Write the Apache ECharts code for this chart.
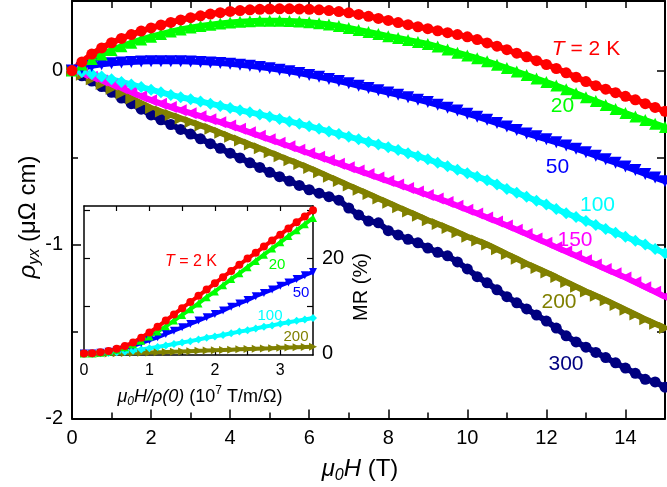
<!DOCTYPE html>
<html>
<head>
<meta charset="utf-8">
<script src="https://cdn.jsdelivr.net/npm/echarts@6/dist/echarts.min.js"></script>
<style>html,body{margin:0;padding:0;background:#fff}#c{width:667px;height:487px}</style>
</head>
<body>
<div id="c"></div>
<script>
// ---------- main panel data: Hall resistivity rho_yx (µΩ cm) vs µ0H (T) ----------
const fieldT = [0,0.25,0.5,0.75,1,1.25,1.5,1.75,2,2.25,2.5,2.75,3,3.25,3.5,3.75,4,4.25,4.5,4.75,5,5.25,5.5,5.75,6,6.25,6.5,6.75,7,7.25,7.5,7.75,8,8.25,8.5,8.75,9,9.25,9.5,9.75,10,10.25,10.5,10.75,11,11.25,11.5,11.75,12,12.25,12.5,12.75,13,13.25,13.5,13.75,14,14.25,14.5,14.75,15];
const rho2K = [0,0.05,0.095,0.13,0.16,0.185,0.207,0.227,0.245,0.262,0.277,0.291,0.304,0.315,0.325,0.333,0.34,0.345,0.349,0.352,0.354,0.355,0.355,0.354,0.352,0.349,0.345,0.339,0.332,0.323,0.312,0.3,0.288,0.276,0.264,0.252,0.241,0.229,0.218,0.207,0.194,0.178,0.159,0.14,0.12,0.1,0.079,0.057,0.035,0.012,-0.013,-0.038,-0.063,-0.087,-0.107,-0.127,-0.148,-0.168,-0.19,-0.212,-0.234];
const rho20K = [0,0.035,0.066,0.093,0.118,0.14,0.16,0.178,0.195,0.21,0.224,0.236,0.247,0.256,0.264,0.271,0.277,0.281,0.284,0.286,0.287,0.287,0.285,0.282,0.278,0.272,0.265,0.256,0.245,0.233,0.222,0.21,0.198,0.187,0.176,0.165,0.153,0.138,0.121,0.103,0.087,0.071,0.053,0.034,0.015,-0.005,-0.026,-0.046,-0.066,-0.086,-0.107,-0.13,-0.153,-0.175,-0.198,-0.221,-0.244,-0.264,-0.284,-0.305,-0.325];
const rho50K = [0,0.015,0.027,0.036,0.042,0.047,0.05,0.052,0.053,0.054,0.054,0.053,0.052,0.05,0.047,0.043,0.039,0.034,0.028,0.021,0.013,0.005,-0.004,-0.014,-0.025,-0.036,-0.048,-0.06,-0.073,-0.087,-0.1,-0.113,-0.126,-0.139,-0.153,-0.167,-0.181,-0.197,-0.213,-0.23,-0.248,-0.265,-0.283,-0.302,-0.321,-0.341,-0.361,-0.378,-0.395,-0.412,-0.43,-0.449,-0.469,-0.489,-0.51,-0.53,-0.551,-0.572,-0.594,-0.615,-0.636];
const rho100K = [0,-0.008,-0.02,-0.034,-0.05,-0.065,-0.08,-0.095,-0.11,-0.125,-0.14,-0.153,-0.165,-0.178,-0.19,-0.203,-0.215,-0.228,-0.24,-0.252,-0.265,-0.278,-0.292,-0.306,-0.32,-0.335,-0.35,-0.365,-0.38,-0.395,-0.41,-0.425,-0.44,-0.457,-0.475,-0.492,-0.51,-0.53,-0.55,-0.57,-0.59,-0.61,-0.63,-0.655,-0.68,-0.702,-0.725,-0.748,-0.77,-0.795,-0.82,-0.842,-0.865,-0.888,-0.91,-0.932,-0.955,-0.978,-1.0,-1.025,-1.05];
const rho150K = [0,-0.016,-0.035,-0.057,-0.08,-0.102,-0.125,-0.148,-0.17,-0.19,-0.21,-0.228,-0.245,-0.262,-0.28,-0.297,-0.315,-0.335,-0.355,-0.375,-0.395,-0.415,-0.435,-0.455,-0.475,-0.495,-0.515,-0.535,-0.555,-0.575,-0.595,-0.615,-0.635,-0.655,-0.675,-0.695,-0.715,-0.735,-0.755,-0.777,-0.8,-0.822,-0.845,-0.867,-0.89,-0.915,-0.94,-0.965,-0.99,-1.015,-1.04,-1.065,-1.09,-1.115,-1.14,-1.165,-1.19,-1.217,-1.245,-1.272,-1.3];
const rho200K = [0,-0.024,-0.05,-0.077,-0.105,-0.132,-0.16,-0.188,-0.215,-0.235,-0.255,-0.275,-0.295,-0.315,-0.335,-0.357,-0.38,-0.402,-0.425,-0.447,-0.47,-0.492,-0.515,-0.537,-0.56,-0.585,-0.61,-0.635,-0.66,-0.685,-0.71,-0.735,-0.76,-0.785,-0.81,-0.835,-0.86,-0.882,-0.905,-0.93,-0.955,-0.977,-1.0,-1.027,-1.055,-1.082,-1.11,-1.135,-1.16,-1.187,-1.215,-1.242,-1.27,-1.295,-1.32,-1.347,-1.375,-1.402,-1.43,-1.455,-1.48];
const rho300K = [0,-0.03,-0.06,-0.092,-0.125,-0.158,-0.19,-0.222,-0.255,-0.283,-0.31,-0.338,-0.365,-0.392,-0.42,-0.447,-0.475,-0.502,-0.53,-0.557,-0.585,-0.61,-0.635,-0.66,-0.685,-0.705,-0.725,-0.745,-0.79,-0.83,-0.865,-0.875,-0.92,-0.945,-0.97,-0.99,-1.02,-1.045,-1.065,-1.1,-1.14,-1.185,-1.22,-1.26,-1.3,-1.335,-1.37,-1.405,-1.44,-1.48,-1.525,-1.56,-1.59,-1.62,-1.65,-1.68,-1.71,-1.74,-1.775,-1.79,-1.82];

// ---------- inset data: MR (%) vs µ0H/rho(0) (10^7 T/m/Ω) ----------
const insetX = [0,0.125,0.25,0.375,0.5,0.625,0.75,0.875,1,1.125,1.25,1.375,1.5,1.625,1.75,1.875,2,2.125,2.25,2.375,2.5,2.625,2.75,2.875,3,3.125,3.25,3.375,3.5];
const mr2K = [0,0.05,0.25,0.55,1.0,1.6,2.3,3.3,4.4,5.6,6.9,8.2,9.5,10.8,12.1,13.4,14.7,16,17.3,18.6,19.9,21.1,22.4,23.7,24.9,26.2,27.5,28.7,30];
const mr20K = [0,0.04,0.18,0.42,0.8,1.3,1.9,2.7,3.6,4.6,5.7,6.9,8.1,9.3,10.5,11.8,13.0,14.3,15.6,16.8,18.1,19.4,20.7,22.0,23.3,24.6,25.8,27.1,28.4];
const mr50K = [0,0.04,0.15,0.4,0.7,1.1,1.6,2.2,2.8,3.4,4.1,4.8,5.5,6.2,6.9,7.6,8.3,9.0,9.8,10.5,11.2,12.0,12.7,13.4,14.2,14.9,15.6,16.4,17.1];
const mr100K = [0,0.02,0.06,0.14,0.25,0.4,0.6,0.85,1.1,1.4,1.7,2.0,2.3,2.6,2.95,3.3,3.6,3.9,4.25,4.6,4.9,5.25,5.6,5.9,6.25,6.55,6.85,7.15,7.45];
const mr200K = [0,0.01,0.02,0.04,0.07,0.1,0.14,0.18,0.23,0.28,0.33,0.39,0.45,0.51,0.57,0.63,0.7,0.76,0.82,0.88,0.94,1.0,1.07,1.13,1.2,1.26,1.32,1.39,1.45];

// ---------- ticks ----------
const xMajorTicks = [0,2,4,6,8,10,12,14];
const xMinorTicks = [1,3,5,7,9,11,13];
const xTopTicks = [1,2,3,4,5,6,7,8,9,10,11,12,13,14];
const yMajorTicks = [-2,-1,0];
const yMinorTicks = [-1.5,-0.5];
const yRightTicks = [-1.5,-1,-0.5,0];
const insetXLabels = [0,1,2,3];
const insetXTicks = [0.5,1,1.5,2,2.5,3];
const insetYTicks = [10,20,30];
const insetYLabels = [0,20];

const FONT = "'Liberation Sans', Arial, Helvetica, sans-serif";
const COL = {k2:'#ff0000',k20:'#00ff00',k50:'#0000ff',k100:'#00ffff',k150:'#ff00ff',k200:'#808000',k300:'#000080'};

const chart = echarts.init(document.getElementById('c'), null, {renderer:'canvas'});

function pairs(xs, ys){ return xs.map((x,i)=>[x, ys[i]]); }

function mainSeries(name, ys, color, symbol, rot, size){
  return {name, type:'line', xAxisIndex:0, yAxisIndex:0, data:pairs(fieldT, ys),
    symbol, symbolRotate:rot, symbolSize:size, showSymbol:true,
    lineStyle:{color, width:6}, itemStyle:{color, borderWidth:0}, animation:false, silent:true, z:2};
}
function insetSeries(name, ys, color, symbol, rot, size){
  return {name, type:'line', xAxisIndex:3, yAxisIndex:3, data:pairs(insetX, ys),
    symbol, symbolRotate:rot, symbolSize:size, showSymbol:true,
    lineStyle:{color, width:4}, itemStyle:{color, borderWidth:0}, animation:false, silent:true, z:3};
}

// text runs with italics / sub / superscripts
const mctx = document.createElement('canvas').getContext('2d');
function run(parts, x, y, color, rotation){
  let w = 0;
  const items = parts.map(p=>{
    const font = (p.it?'italic ':'') + p.s + 'px ' + FONT;
    mctx.font = font;
    const pw = mctx.measureText(p.t).width;
    const it = {p, pw, x0:w};
    w += pw;
    return it;
  });
  const children = items.map(it=>({
    type:'text', x: it.x0 - w/2, y: it.p.dy||0, silent:true,
    style:{text:it.p.t, fill:color, fontSize:it.p.s, fontStyle:it.p.it?'italic':'normal',
      fontFamily:FONT, align:'left', verticalAlign:'middle'}
  }));
  return {type:'group', x, y, rotation: rotation||0, children, silent:true, z:10};
}

const option = {
  backgroundColor:'#fff',
  animation:false,
  grid:[
    {left:72, right:2, top:1, bottom:68.5},
    {left:84, top:206, width:229, height:149}
  ],
  xAxis:[
    {gridIndex:0, type:'value', min:0, max:15, position:'bottom',
      axisLine:{show:true, onZero:false, lineStyle:{color:'#000', width:2}},
      axisTick:{show:true, inside:true, length:9, customValues:xMajorTicks, lineStyle:{color:'#000', width:1.5}},
      axisLabel:{show:true, customValues:xMajorTicks, fontSize:20, fontFamily:FONT, color:'#000', margin:10},
      splitLine:{show:false}},
    {gridIndex:0, type:'value', min:0, max:15, position:'bottom',
      axisLine:{show:false, onZero:false},
      axisTick:{show:true, inside:true, length:6, customValues:xMinorTicks, lineStyle:{color:'#000', width:1.5}},
      axisLabel:{show:false}, splitLine:{show:false}},
    {gridIndex:0, type:'value', min:0, max:15, position:'top',
      axisLine:{show:true, onZero:false, lineStyle:{color:'#000', width:2}},
      axisTick:{show:true, inside:true, length:7, customValues:xTopTicks, lineStyle:{color:'#000', width:1.5}},
      axisLabel:{show:false}, splitLine:{show:false}},
    {gridIndex:1, type:'value', min:0, max:3.5, position:'bottom',
      axisLine:{show:true, onZero:false, lineStyle:{color:'#000', width:1.5}},
      axisTick:{show:true, inside:true, length:5, customValues:insetXTicks, lineStyle:{color:'#000', width:1.2}},
      axisLabel:{show:true, customValues:insetXLabels, fontSize:16, fontFamily:FONT, color:'#000', margin:8},
      splitLine:{show:false}},
    {gridIndex:1, type:'value', min:0, max:3.5, position:'top',
      axisLine:{show:true, onZero:false, lineStyle:{color:'#000', width:1.5}},
      axisTick:{show:true, inside:true, length:5, customValues:insetXTicks, lineStyle:{color:'#000', width:1.2}},
      axisLabel:{show:false}, splitLine:{show:false}}
  ],
  yAxis:[
    {gridIndex:0, type:'value', min:-2, max:0.4, position:'left',
      axisLine:{show:true, onZero:false, lineStyle:{color:'#000', width:2}},
      axisTick:{show:true, inside:true, length:9, customValues:yMajorTicks, lineStyle:{color:'#000', width:1.5}},
      axisLabel:{show:true, customValues:yMajorTicks, fontSize:20, fontFamily:FONT, color:'#000', margin:9},
      splitLine:{show:false}},
    {gridIndex:0, type:'value', min:-2, max:0.4, position:'left',
      axisLine:{show:false, onZero:false},
      axisTick:{show:true, inside:true, length:6, customValues:yMinorTicks, lineStyle:{color:'#000', width:1.5}},
      axisLabel:{show:false}, splitLine:{show:false}},
    {gridIndex:0, type:'value', min:-2, max:0.4, position:'right',
      axisLine:{show:true, onZero:false, lineStyle:{color:'#000', width:2}},
      axisTick:{show:true, inside:true, length:8, customValues:yRightTicks, lineStyle:{color:'#000', width:1.5}},
      axisLabel:{show:false}, splitLine:{show:false}},
    {gridIndex:1, type:'value', min:-0.3, max:30.9, position:'left',
      axisLine:{show:true, onZero:false, lineStyle:{color:'#000', width:1.5}},
      axisTick:{show:true, inside:true, length:6, customValues:insetYTicks, lineStyle:{color:'#000', width:1.2}},
      axisLabel:{show:false}, splitLine:{show:false}},
    {gridIndex:1, type:'value', min:-0.3, max:30.9, position:'right',
      axisLine:{show:true, onZero:false, lineStyle:{color:'#000', width:1.5}},
      axisTick:{show:true, inside:true, length:6, customValues:insetYTicks, lineStyle:{color:'#000', width:1.2}},
      axisLabel:{show:true, customValues:insetYLabels, fontSize:20, fontFamily:FONT, color:'#000', margin:9},
      splitLine:{show:false}}
  ],
  series:[
    mainSeries('300 K', rho300K, COL.k300, 'circle', 0, 11),
    mainSeries('200 K', rho200K, COL.k200, 'triangle', -90, 12),
    mainSeries('150 K', rho150K, COL.k150, 'triangle', 90, 12),
    mainSeries('100 K', rho100K, COL.k100, 'diamond', 0, 12),
    mainSeries('50 K', rho50K, COL.k50, 'triangle', 180, 12),
    mainSeries('20 K', rho20K, COL.k20, 'triangle', 0, 12),
    mainSeries('2 K', rho2K, COL.k2, 'circle', 0, 11),
    insetSeries('i200 K', mr200K, COL.k200, 'triangle', -90, 8),
    insetSeries('i100 K', mr100K, COL.k100, 'diamond', 0, 8),
    insetSeries('i50 K', mr50K, COL.k50, 'triangle', 180, 8),
    insetSeries('i20 K', mr20K, COL.k20, 'triangle', 0, 8),
    insetSeries('i2 K', mr2K, COL.k2, 'circle', 0, 8)
  ],
  graphic:[
    run([{t:'\u03bc',s:24,it:true},{t:'0',s:16,it:true,dy:7},{t:'H',s:24,it:true},{t:' (T)',s:24}], 360, 469, '#000'),
    run([{t:'\u03c1',s:24,it:true},{t:'yx',s:16,it:true,dy:7},{t:' (\u03bc\u03a9 cm)',s:24}], 28, 217, '#000', Math.PI/2),
    run([{t:'MR (%)',s:20}], 361, 287, '#000', Math.PI/2),
    run([{t:'\u03bc',s:18,it:true},{t:'0',s:12,it:true,dy:5},{t:'H/\u03c1(0)',s:18,it:true},{t:' (10',s:18},{t:'7',s:12,dy:-6},{t:' T/m/\u03a9)',s:18}], 200, 397, '#000'),
    run([{t:'T',s:21,it:true},{t:' = 2 K',s:21}], 586, 49, COL.k2),
    run([{t:'20',s:21}], 562.5, 106, COL.k20),
    run([{t:'50',s:21}], 557.5, 167.5, COL.k50),
    run([{t:'100',s:21}], 597.5, 205, COL.k100),
    run([{t:'150',s:21}], 575, 240, COL.k150),
    run([{t:'200',s:21}], 559, 302.5, COL.k200),
    run([{t:'300',s:21}], 566, 364, COL.k300),
    run([{t:'T',s:16,it:true},{t:' = 2 K',s:16}], 191, 262, COL.k2),
    run([{t:'20',s:15}], 277, 265, COL.k20),
    run([{t:'50',s:15}], 301, 293, COL.k50),
    run([{t:'100',s:15}], 270, 316, COL.k100),
    run([{t:'200',s:15}], 296, 337, COL.k200)
  ]
};
chart.setOption(option);
</script>
</body>
</html>
